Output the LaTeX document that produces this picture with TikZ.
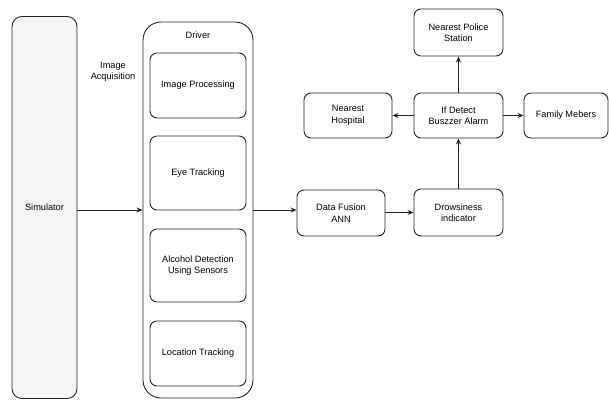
\documentclass[tikz,border=0pt]{standalone}
\usepackage{fontspec}
\setmainfont{Liberation Sans}
\usetikzlibrary{arrows.meta}
\definecolor{lc}{HTML}{222222}
\tikzset{
  box/.style={draw=lc, line width=0.9pt, rounded corners=7pt, align=center, font=\fontsize{9.2}{11.5}\selectfont, inner sep=0pt},
  arr/.style={draw=lc, line width=0.9pt, -{Stealth[length=6pt,width=5pt]}},
}
\begin{document}
\begin{tikzpicture}[x=1pt,y=-1pt]
\useasboundingbox (0,0) rectangle (609,400);
% Simulator
\node[box, fill=gray!8, rounded corners=10pt, minimum width=65pt, minimum height=382pt] (sim) at (44.5,207.5) {Simulator};
% Driver container
\node[box, rounded corners=18pt, minimum width=110pt, minimum height=376pt] (drv) at (198,210) {};
\node[font=\fontsize{9.2}{11.5}\selectfont] (drvlbl) at (198,35) {Driver};
\node[box, minimum width=96pt, minimum height=65pt] (ip) at (198,85.5) {Image Processing};
\node[box, minimum width=96pt, minimum height=74pt] (et) at (198,173) {Eye Tracking};
\node[box, minimum width=96pt, minimum height=73pt] (ad) at (198,265.5) {Alcohol Detection\\Using Sensors};
\node[box, minimum width=96pt, minimum height=65pt] (lt) at (198,353.5) {Location Tracking};
\node[align=center, font=\fontsize{9.2}{11.5}\selectfont] (acq) at (113,72) {Image\\Acquisition};
% Right part
\node[box, minimum width=88pt, minimum height=46pt] (df) at (341,213) {Data Fusion\\ANN};
\node[box, minimum width=89pt, minimum height=47pt] (dr) at (458.5,212.5) {Drowsiness\\indicator};
\node[box, minimum width=89pt, minimum height=45pt] (ifd) at (458.5,115.5) {If Detect\\Buszzer Alarm};
\node[box, minimum width=88pt, minimum height=45pt] (hosp) at (348,115.5) {Nearest\\Hospital};
\node[box, minimum width=84pt, minimum height=45pt] (fam) at (566,115.5) {Family Mebers};
\node[box, minimum width=89pt, minimum height=47pt] (pol) at (458.5,32.5) {Nearest Police\\Station};
% Connectors
\draw[arr] (sim.east |- 0,210) -- (drv.west |- 0,210);
\draw[arr] (drv.east |- 0,210) -- (df.west |- 0,210);
\draw[arr] (df.east |- 0,212.5) -- (dr.west |- 0,212.5);
\draw[arr] (dr) -- (ifd);
\draw[arr] (ifd) -- (pol);
\draw[arr] (ifd) -- (hosp);
\draw[arr] (ifd) -- (fam);
\end{tikzpicture}
\end{document}
